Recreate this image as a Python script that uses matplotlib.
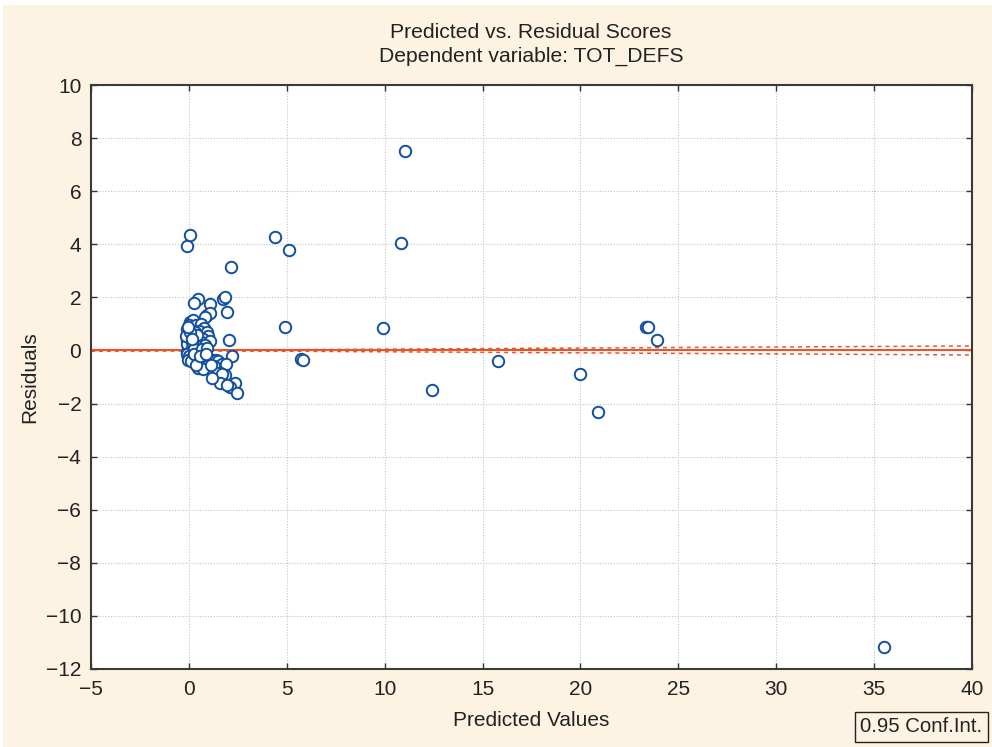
import matplotlib
matplotlib.use("Agg")
import matplotlib.pyplot as plt
from matplotlib.patches import Rectangle

plt.rcParams['font.family'] = ['Liberation Sans', 'DejaVu Sans']

# Predicted values and residuals (dependent variable TOT_DEFS)
predicted = [
    # scattered cases
    4.39, 5.12, 11.03, 10.83, 9.91, 4.90, 5.75, 5.82, 12.41, 15.78, 19.97, 20.89,
    23.35, 23.45, 23.90, 35.50, 2.13, -0.12, 0.05, 2.06, 2.18,
    # low-prediction cluster, upper part
    0.44, 0.24, 1.72, 1.85, 1.07, 1.94, 0.90, 1.07, 0.82, 0.05, 0.22,
    0.00, -0.10, 0.10, 0.35, 0.60, 0.75, 0.50, 0.30, -0.05, 0.15, 0.45, 0.90,
    1.00, 0.70, 0.25, -0.10, 0.05, 0.35, 0.60, 1.10, 0.15, -0.05, 0.30, 0.50,
    0.80, 0.00, 0.20, -0.08, 0.10, 0.35, -0.12, 0.02, 0.12, -0.05, 0.08, 0.40,
    -0.15, -0.10, 0.05, 0.18, -0.02, 0.28,
    # low-prediction cluster, lower part
    0.00, 0.20, 0.45, 0.60, 0.80, 0.30, 0.50, 0.75, 1.00, 1.20, 1.41, 1.50,
    1.70, 1.92, 0.90, 1.10, 1.30, 1.58, 1.84, 0.45, 0.70, 1.33, 1.45, 1.70,
    2.35, 2.09, 2.44, 1.58, 1.20, 1.95, -0.05, 0.10, 0.25, 0.15, 0.65, 0.95,
    0.35, 0.55, 1.15, 0.85,
]
residual = [
    4.29, 3.79, 7.51, 4.05, 0.85, 0.90, -0.33, -0.37, -1.49, -0.40, -0.88, -2.32,
    0.90, 0.88, 0.40, -11.17, 3.16, 3.95, 4.35, 0.38, -0.21,
    1.94, 1.78, 1.94, 2.00, 1.74, 1.45, 1.35, 1.40, 1.27, 1.08, 1.15,
    0.95, 0.80, 0.85, 0.95, 1.00, 0.85, 0.75, 0.70, 0.65, 0.60, 0.55, 0.70,
    0.55, 0.45, 0.45, 0.40, 0.35, 0.30, 0.30, 0.35, 0.20, 0.15, 0.10, 0.15,
    0.20, 0.05, -0.02, -0.05, -0.10, -0.10, 0.25, 0.50, 0.00, -0.25, -0.30, 0.60,
    0.55, -0.15, 0.70, 0.30, 0.90, 0.05,
    -0.20, -0.25, -0.25, -0.30, -0.35, -0.40, -0.50, -0.45, -0.45, -0.35, -0.36, -0.40,
    -0.50, -0.51, -0.60, -0.65, -0.60, -0.85, -0.92, -0.65, -0.70, -0.99, -0.85, -0.90,
    -1.24, -1.36, -1.61, -1.24, -1.05, -1.30, -0.35, -0.40, -0.15, 0.45, 0.05, 0.10,
    -0.55, -0.20, -0.55, -0.15,
]

# Fitted line and 0.95 confidence band
fit_x = [-5, 40]
fit_y = [0.0, 0.0]
ci_x = [-5, 0, 5, 10, 15, 20, 25, 30, 35, 40]
ci_upper = [0.03, 0.02, 0.03, 0.05, 0.07, 0.09, 0.11, 0.13, 0.15, 0.17]
ci_lower = [-0.03, -0.02, -0.03, -0.05, -0.07, -0.09, -0.11, -0.13, -0.15, -0.17]

x_ticks = [-5, 0, 5, 10, 15, 20, 25, 30, 35, 40]
y_ticks = [-12, -10, -8, -6, -4, -2, 0, 2, 4, 6, 8, 10]

W, H = 992, 747
cream = '#fdf3e3'
ink = '#222222'
fig = plt.figure(figsize=(W / 100, H / 100), dpi=100, facecolor=cream)
ax = fig.add_axes([91 / W, 78 / H, 881 / W, 584 / H])
ax.set_facecolor('white')

ax.grid(True, color='#c4c4c4', linestyle=(0, (1, 1.5)), linewidth=0.8, zorder=0)

line_col = '#ea5429'
ax.plot(fit_x, fit_y, color=line_col, linewidth=1.5, zorder=2)
ax.plot(ci_x, ci_upper, color=line_col, linewidth=1.1, linestyle=(0, (2.6, 2.6)), zorder=2)
ax.plot(ci_x, ci_lower, color=line_col, linewidth=1.1, linestyle=(0, (2.6, 2.6)), zorder=2)

ax.scatter(predicted, residual, s=68, facecolors='white', edgecolors='#124fa0',
           linewidths=1.4, zorder=3)

ax.set_xlim(-5, 40)
ax.set_ylim(-12, 10)
ax.set_xticks(x_ticks)
ax.set_yticks(y_ticks)
ax.tick_params(direction='in', length=4, width=1.0, color='#333333',
               labelsize=15, labelcolor=ink, top=True, right=True)
ax.tick_params(axis='y', pad=7)
ax.tick_params(axis='x', pad=8)
for s in ax.spines.values():
    s.set_color('#3a3a3a')
    s.set_linewidth(1.5)

fig.text(531 / W, 1 - 44.5 / H, 'Predicted vs. Residual Scores\nDependent variable: TOT_DEFS',
         fontsize=15.2, color=ink, ha='center', va='center', linespacing=1.3)
fig.text(531 / W, 1 - 720 / H, 'Predicted Values', fontsize=15, color=ink,
         ha='center', va='center')
fig.text(30 / W, 1 - 377 / H, 'Residuals', fontsize=15, color=ink,
         ha='center', va='center', rotation=90)

fig.text(921.5 / W, 1 - 727 / H, '0.95 Conf.Int.', fontsize=14.7, color=ink,
         ha='center', va='center',
         bbox=dict(boxstyle='square,pad=0.25', facecolor=cream, edgecolor=ink,
                   linewidth=1.0))

# thin white border along the top and left edges
fig.patches.append(Rectangle((0, 1 - 5 / H), 1, 5 / H, transform=fig.transFigure,
                             facecolor='white', edgecolor='none', zorder=-1))
fig.patches.append(Rectangle((0, 0), 3 / W, 1, transform=fig.transFigure,
                             facecolor='white', edgecolor='none', zorder=-1))

fig.savefig('out.png', dpi=100, facecolor=cream)
